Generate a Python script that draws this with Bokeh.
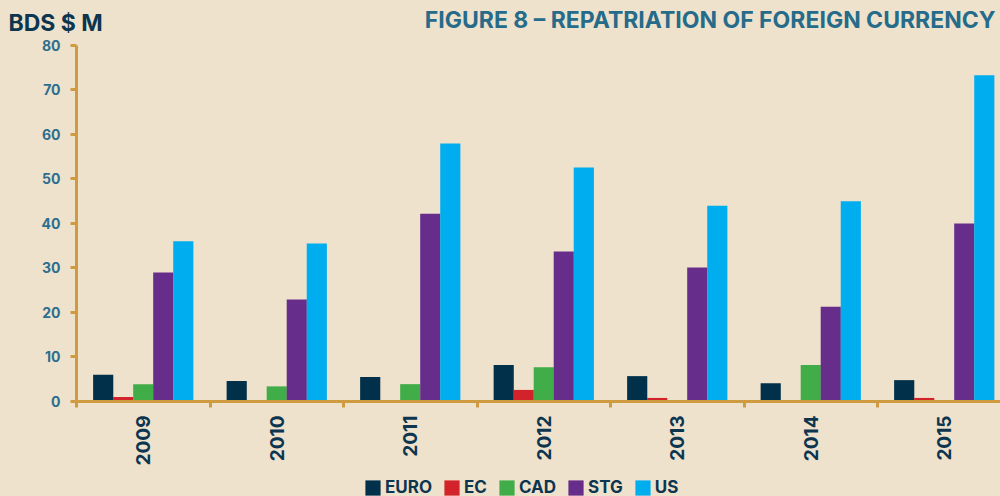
import math
from bokeh.plotting import figure
from bokeh.models import (ColumnDataSource, Range1d, FixedTicker, Label, Legend, LegendItem,
                          GlobalInlineStyleSheet)
from bokeh.transform import dodge
from bokeh.embed import file_html
from bokeh.resources import INLINE

# ---- data (BDS $ M) ----
years = ["2009", "2010", "2011", "2012", "2013", "2014", "2015"]
euro = [6.0, 4.6, 5.5, 8.2, 5.7, 4.1, 4.8]
ec = [1.0, 0.0, 0.0, 2.6, 0.8, 0.0, 0.8]
cad = [3.9, 3.4, 3.9, 7.7, 0.0, 8.2, 0.0]
stg = [29.0, 22.9, 42.2, 33.7, 30.1, 21.3, 40.0]
us = [36.0, 35.5, 58.0, 52.6, 44.0, 45.0, 73.3]
series_names = ["EURO", "EC", "CAD", "STG", "US"]
y_ticks = [0, 10, 20, 30, 40, 50, 60, 70, 80]

colors = ["#00304A", "#D2232A", "#41AD49", "#662D8A", "#00ADEE"]
BG = "#EFE2CC"
GOLD = "#D09B40"
FONT = "Inter"

centers = [i + 0.5 for i in range(len(years))]
source = ColumnDataSource(dict(x=centers, EURO=euro, EC=ec, CAD=cad, STG=stg, US=us))

# frame covers the whole canvas; axes are drawn at fixed data locations
p = figure(width=1000, height=496, output_backend="svg", toolbar_location=None,
           x_range=Range1d(-0.5693, 6.9213), y_range=Range1d(-21.35, 90.11),
           min_border_left=0, min_border_right=0, min_border_top=0, min_border_bottom=0)
p.stylesheets = [GlobalInlineStyleSheet(css="body{background:%s;}" % BG)]
p.background_fill_color = BG
p.border_fill_color = BG
p.outline_line_color = None
p.grid.grid_line_color = None

bw = 0.151
offsets = [-0.3, -0.15, 0.0, 0.15, 0.3]
renderers = []
for name, off, col in zip(series_names, offsets, colors):
    r = p.vbar(x=dodge("x", off, range=p.x_range), top=name, width=bw, source=source,
               fill_color=col, line_color=None)
    renderers.append(r)

# x axis: labels at centres, ticks at category boundaries (minor ticks)
xa = p.xaxis[0]
xa.fixed_location = 0
xa.bounds = (0, len(years))
xa.ticker = FixedTicker(ticks=centers, minor_ticks=list(range(len(years) + 1)))
xa.major_label_overrides = {c: y for c, y in zip(centers, years)}
xa.major_tick_out = 0
xa.major_tick_in = 0
xa.minor_tick_out = 6
xa.minor_tick_in = 0
xa.minor_tick_line_color = GOLD
xa.minor_tick_line_width = 3
xa.axis_line_color = GOLD
xa.axis_line_width = 3
xa.major_label_orientation = math.pi / 2
xa.major_label_text_font = FONT
xa.major_label_text_font_style = "bold"
xa.major_label_text_font_size = "19px"
xa.major_label_text_color = "#0C3550"
xa.major_label_standoff = 8

ya = p.yaxis[0]
ya.fixed_location = 0
ya.bounds = (0, 80)
ya.ticker = FixedTicker(ticks=y_ticks)
ya.major_tick_out = 6
ya.major_tick_in = 0
ya.major_tick_line_color = GOLD
ya.major_tick_line_width = 3
ya.minor_tick_line_color = None
ya.axis_line_color = GOLD
ya.axis_line_width = 3
ya.major_label_text_font = FONT
ya.major_label_text_font_style = "bold"
ya.major_label_text_font_size = "14px"
ya.major_label_text_color = "#2C6E8F"
ya.major_label_standoff = 10

# titles
p.add_layout(Label(x=8, y=474, x_units="screen", y_units="screen", text="BDS $ M",
                   text_font=FONT, text_font_style="bold", text_font_size="23px",
                   text_color="#0C3550", text_baseline="alphabetic", text_align="left"))
p.add_layout(Label(x=995, y=477, x_units="screen", y_units="screen",
                   text="FIGURE 8 \u2013 REPATRIATION OF FOREIGN CURRENCY",
                   text_font=FONT, text_font_style="bold", text_font_size="23px",
                   text_color="#266B8A", text_baseline="alphabetic", text_align="right"))

legend = Legend(items=[LegendItem(label=n, renderers=[r]) for n, r in zip(series_names, renderers)],
                orientation="horizontal", location=(363, -1),
                glyph_width=19, glyph_height=19, label_standoff=3, spacing=10,
                padding=0, margin=0, border_line_color=None, background_fill_alpha=0,
                label_text_font=FONT, label_text_font_style="bold", label_text_font_size="17px",
                label_text_color="#0C3550", label_height=15)
p.add_layout(legend, "center")

open("out.html", "w").write(file_html(p, INLINE))
